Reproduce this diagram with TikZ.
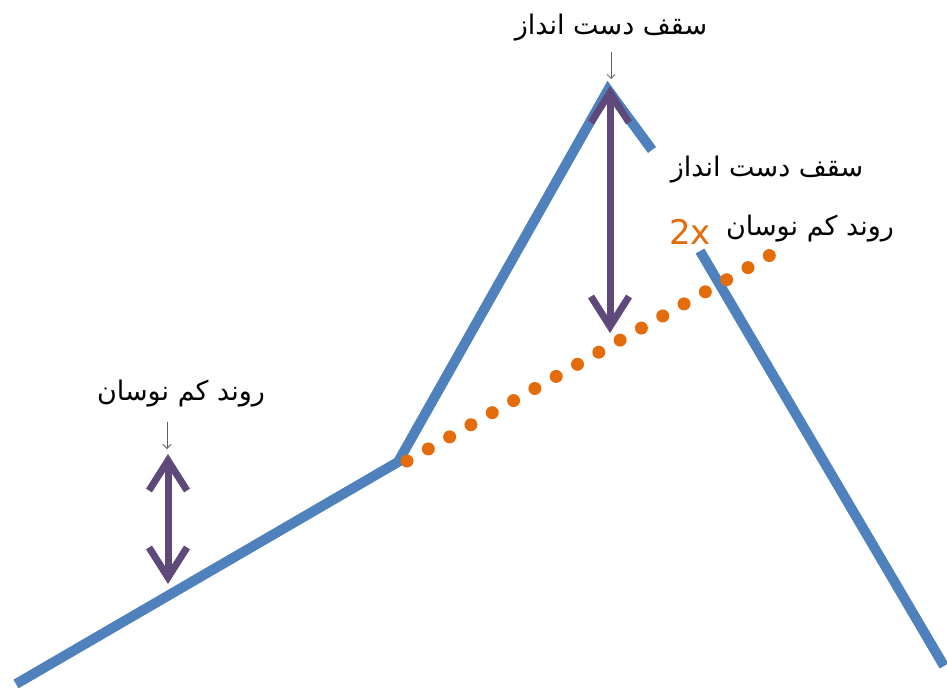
\documentclass[tikz,border=0pt]{standalone}
\usepackage{fontspec}
\newfontfamily\arabicfont[Script=Arabic]{DejaVu Sans}
\newfontfamily\latinsans{DejaVu Sans}
\TeXXeTstate=1
\usetikzlibrary{arrows.meta}
\definecolor{lineblue}{HTML}{4F81BD}
\definecolor{dotorange}{HTML}{E46C0A}
\definecolor{arrowpurple}{HTML}{5F497A}
\definecolor{pointergray}{HTML}{606060}
\tikzset{
  trendline/.style={draw=lineblue, line width=10pt, line join=miter},
  dottrend/.style={draw=dotorange, line width=13pt, line cap=round, dash pattern=on 0pt off 24.5pt},
  rangearrow/.style={draw=arrowpurple, line width=7pt,
     {Straight Barb[length=30pt,width=38pt]}-{Straight Barb[length=30pt,width=38pt]}},
  pointer/.style={draw=pointergray, line width=0.8pt, -{Straight Barb[length=4pt,width=8pt]}},
  fatext/.style={font=\arabicfont\fontsize{27}{30}\selectfont, text=black, inner sep=0pt},
  twox/.style={font=\latinsans\fontsize{34}{36}\selectfont, text=dotorange, inner sep=0pt}
}
\begin{document}
\begin{tikzpicture}[x=1pt,y=-1pt]
\useasboundingbox[fill=white] (0,0) rectangle (947,689);
% blue line points
\coordinate (b1) at (16,684);
\coordinate (b2) at (398,462);
\coordinate (b3) at (608,90);
\coordinate (b4) at (652,150);
\coordinate (c1) at (700,251);
\coordinate (c2) at (944,666);
\coordinate (d1) at (407,461);
\coordinate (d2) at (772,254);
% arrows
\coordinate (p1t) at (610,86);
\coordinate (p1b) at (610,333);
\coordinate (p2t) at (168,454);
\coordinate (p2b) at (168,584);
\coordinate (q1s) at (611,52);
\coordinate (q1e) at (611,79);
\coordinate (q2s) at (167,422);
\coordinate (q2e) at (167,449);

\draw[trendline] (b1) -- (b2) -- (b3) -- (b4);
\draw[trendline] (c1) -- (c2);
\draw[dottrend] (d1) -- (d2);
\draw[rangearrow] (p1t) -- (p1b);
\draw[rangearrow] (p2t) -- (p2b);
\draw[pointer] (q1s) -- (q1e);
\draw[pointer] (q2s) -- (q2e);

\node[fatext] (t1) at (611,28) {\beginR سقف دست انداز\endR};
\node[fatext] (t2) at (767,170) {\beginR سقف دست انداز\endR};
\node[fatext] (t3) at (810,229) {\beginR روند کم نوسان\endR};
\node[twox] (t4) at (690,232) {2x};
\node[fatext] (t5) at (181,394) {\beginR روند کم نوسان\endR};
\end{tikzpicture}
\end{document}
